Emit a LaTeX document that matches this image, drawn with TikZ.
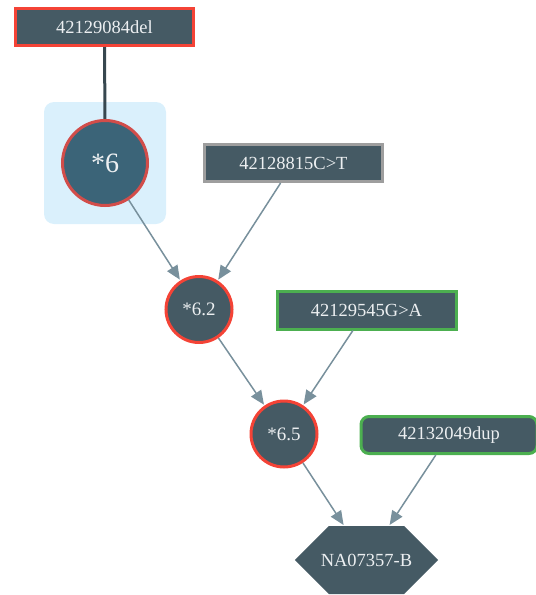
\documentclass[tikz,border=0pt]{standalone}
\usepackage{fontspec}
\setmainfont{Liberation Serif}
\usetikzlibrary{arrows.meta,shapes.symbols}

\definecolor{nodefill}{HTML}{455A64}
\definecolor{focusfill}{HTML}{3B6478}
\definecolor{txt}{HTML}{ECEFF1}
\definecolor{edgecol}{HTML}{78909C}
\definecolor{linkcol}{HTML}{37474F}
\definecolor{redb}{HTML}{F44336}
\definecolor{focusred}{HTML}{D24D4A}
\definecolor{greenb}{HTML}{4CAF50}
\definecolor{grayb}{HTML}{9E9E9E}
\definecolor{halo}{HTML}{DAF0FC}

\tikzset{
  varbox/.style={draw, line width=3pt, fill=nodefill, text=txt, inner sep=0pt,
    minimum width=178pt, minimum height=37pt, font=\fontsize{18.5}{20}\selectfont},
  allele/.style={circle, draw=redb, line width=3pt, fill=nodefill, text=txt,
    inner sep=0pt, minimum size=66pt, font=\fontsize{19}{21}\selectfont},
  sample/.style={signal, signal to=west and east, signal pointer angle=90,
    fill=nodefill, text=txt, inner ysep=0pt, inner xsep=-8pt, minimum width=20pt,
    minimum height=68pt, font=\fontsize{18.5}{20}\selectfont},
  flow/.style={draw=edgecol, line width=1.5pt,
    -{Triangle[length=14pt,width=12pt]}, shorten >=1pt},
}

\begin{document}
\begin{tikzpicture}[x=1pt,y=-1pt]
  \useasboundingbox (0,0) rectangle (536,595);

  % highlight behind the core allele
  \fill[halo, rounded corners=10pt] (44,102) rectangle (166,224);

  % variant that defines the core allele, with its link
  \node[varbox, draw=redb] (del) at (104.5,27) {42129084del};
  \coordinate (coretop) at (105,120);
  \draw[linkcol, line width=3pt] (del.south) -- (coretop);

  % alleles
  \node[circle, draw=focusred, line width=3pt, fill=focusfill, text=txt, inner sep=0pt,
    minimum size=85pt, font=\fontsize{28}{30}\selectfont] (a6) at (105,163) {*6};
  \node[allele] (a62) at (199,309.5) {*6.2};
  \node[allele] (a65) at (284,434) {*6.5};

  % variants
  \node[varbox, draw=grayb] (ct) at (293.5,163) {42128815C>T};
  \node[varbox, draw=greenb, minimum width=179pt, minimum height=38pt] (ga) at (366.5,310) {42129545G>A};
  \node[varbox, draw=greenb, rounded corners=8pt, minimum width=176pt] (dup) at (449,435) {42132049dup};

  % sample
  \node[sample] (na) at (366.5,560) {NA07357-B};

  % derivation edges
  \draw[flow] (a6) -- (a62);
  \draw[flow] (ct) -- (a62);
  \draw[flow] (a62) -- (a65);
  \draw[flow] (ga) -- (a65);
  \draw[flow] (a65) -- (na);
  \draw[flow] (dup) -- (na);
\end{tikzpicture}
\end{document}
